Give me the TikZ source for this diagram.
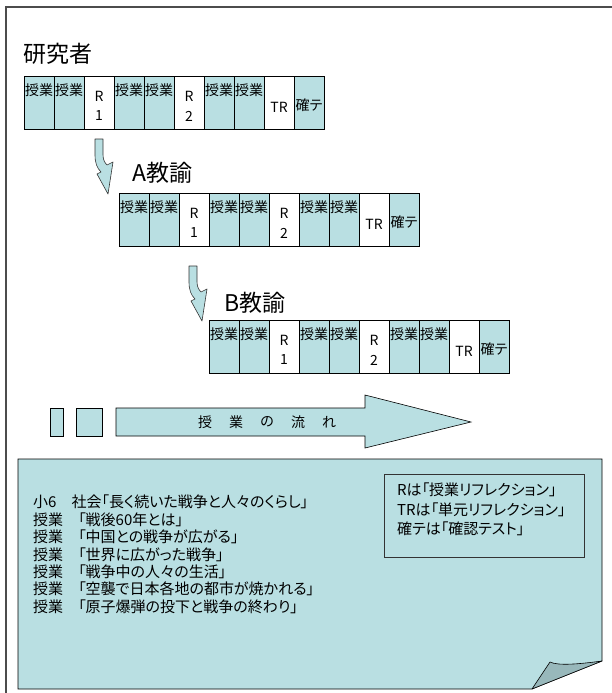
\documentclass[tikz,border=0pt]{standalone}
\usepackage{fontspec}
\newfontfamily\jp[RawFeature=+palt]{Noto Sans CJK JP}
\definecolor{tl}{HTML}{B9DFE2}
\definecolor{flap}{HTML}{98B8BB}
\newcommand\cellrow[3]{%
  \begin{scope}[shift={(#2,#3)}]
    \foreach \i/\c in {0/tl,1/tl,2/white,3/tl,4/tl,5/white,6/tl,7/tl,8/white,9/tl}
      \node[cellbox, fill=\c] (#1c\i) at (\i*30,0) {};
    \foreach \i in {0,1,3,4,6,7}
      \node[ctxt] (#1t\i) at (\i*30+15,14) {授業};
    \node[ctxt] (#1ra) at (75,20) {R};
    \node[ctxt] (#1rb) at (75,40) {1};
    \node[ctxt] (#1rc) at (165,20) {R};
    \node[ctxt] (#1rd) at (165,40) {2};
    \node[ctxt] (#1tr) at (255,31) {TR};
    \node[ctxt] (#1kt) at (285,29) {確テ};
  \end{scope}}
\newcommand\bentarrow[1]{%
  \begin{scope}[shift={(#1)}]
    \draw[arrowshape] (0,0) -- (8,0) -- (8,16) .. controls (8,21) and (10,24) .. (12,26)
      -- (18,23) -- (13,55) -- (2,35) -- (6,33) .. controls (2,29) and (0,24) .. (0,16) -- cycle;
  \end{scope}}
\begin{document}
\begin{tikzpicture}[x=1pt,y=-1pt,
  cellbox/.style={draw=black, line width=0.6pt, minimum width=30pt, minimum height=53pt,
    anchor=north west, inner sep=0pt, outer sep=0pt},
  ctxt/.style={font=\jp\fontsize{14}{14}\selectfont, inner sep=0pt},
  title/.style={font=\jp\fontsize{23}{23}\selectfont, inner sep=0pt, anchor=west},
  body/.style={font=\jp\fontsize{15}{15}\selectfont, inner sep=0pt, anchor=west},
  arrowshape/.style={fill=tl, draw=black!80, line width=0.6pt, line join=round},
  shapebox/.style={fill=tl, draw=black, line width=0.6pt}]
\useasboundingbox (0,0) rectangle (611,693);
% outer frame
\draw[gray!60!black, line width=1.4pt] (6,720) -- (6,7) -- (640,7);

% rows
\node[title] (t1) at (23,54) {研究者};
\cellrow{a}{24}{76}
\bentarrow{95,139}
\node[title] (t2) at (132,173) {A教諭};
\cellrow{b}{119}{193}
\bentarrow{189,266}
\node[title] (t3) at (224,303) {B教諭};
\cellrow{c}{209}{320}

% flow arrow
\node[shapebox, minimum width=13pt, minimum height=28pt, inner sep=0pt, anchor=north west] (sq1) at (50,408) {};
\node[shapebox, minimum width=26pt, minimum height=28pt, inner sep=0pt, anchor=north west] (sq2) at (76,408) {};
\draw[shapebox] (116,408) -- (365,408) -- (365,395) -- (471,422) -- (365,448) -- (365,436) -- (116,436) -- cycle;
\foreach \x/\t [count=\k] in {205/授,236/業,267/の,298/流,329/れ}
  \node[font=\jp\fontsize{14}{14}\selectfont, inner sep=0pt] (fl\k) at (\x,422) {\t};

% note
\draw[shapebox] (18,459) -- (602,459) -- (602,661) -- (532,689) -- (18,689) -- cycle;
\draw[fill=flap, draw=black, line width=0.6pt, line join=round] (532,689) -- (550,662)
  .. controls (558,666) and (580,664) .. (602,661) -- cycle;

\node[body] (l1) at (33,502) {小6　社会「長く続いた戦争と人々のくらし」};
\node[body] (l2) at (33,520) {授業　「戦後60年とは」};
\node[body] (l3) at (33,537) {授業　「中国との戦争が広がる」};
\node[body] (l4) at (33,555) {授業　「世界に広がった戦争」};
\node[body] (l5) at (33,572) {授業　「戦争中の人々の生活」};
\node[body] (l6) at (33,589) {授業　「空襲で日本各地の都市が焼かれる」};
\node[body] (l7) at (33,607) {授業　「原子爆弾の投下と戦争の終わり」};

\draw[black!80, line width=0.6pt] (384,474) rectangle (584,557);
\node[body] (g1) at (397,490) {Rは「授業リフレクション」};
\node[body] (g2) at (397,510) {TRは「単元リフレクション」};
\node[body] (g3) at (397,529) {確テは「確認テスト」};
\end{tikzpicture}
\end{document}
